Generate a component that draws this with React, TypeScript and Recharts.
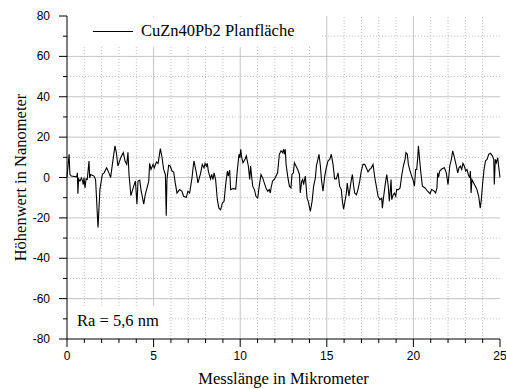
import { LineChart, Line, XAxis, YAxis, ReferenceLine, Legend } from 'recharts';

// profile: position along the line (µm) and height (nm)
const positionUm = [
  0.0, 0.12, 0.17, 0.25, 0.56, 0.6, 0.63, 0.67, 0.75, 0.83, 0.9, 0.94, 0.98, 1.04, 1.1, 1.17, 1.27, 1.31, 1.37, 1.56,
  1.65, 1.79, 1.9, 2.04, 2.14, 2.29, 2.42, 2.52, 2.62, 2.77, 2.85, 2.94, 3.1, 3.25, 3.35, 3.45, 3.52, 3.58, 3.69, 3.85,
  3.95, 4.04, 4.1, 4.2, 4.27, 4.43, 4.52, 4.72, 4.77, 4.85, 4.97, 5.04, 5.16, 5.26, 5.39, 5.49, 5.58, 5.68, 5.73, 5.77,
  5.87, 5.96, 6.06, 6.16, 6.25, 6.35, 6.5, 6.64, 6.73, 6.89, 6.98, 7.08, 7.22, 7.28, 7.33, 7.47, 7.56, 7.72, 7.81, 7.91,
  7.97, 8.05, 8.1, 8.16, 8.24, 8.29, 8.35, 8.43, 8.49, 8.58, 8.68, 8.77, 8.87, 8.97, 9.07, 9.16, 9.26, 9.31, 9.39, 9.45,
  9.6, 9.74, 9.83, 9.93, 9.99, 10.03, 10.09, 10.16, 10.28, 10.35, 10.47, 10.55, 10.6, 10.66, 10.72, 10.82, 10.91, 11.01, 11.1, 11.2,
  11.3, 11.39, 11.49, 11.59, 11.68, 11.74, 11.78, 11.87, 11.97, 12.07, 12.16, 12.26, 12.36, 12.45, 12.51, 12.55, 12.6, 12.65, 12.74, 12.84,
  12.93, 12.99, 13.07, 13.13, 13.22, 13.32, 13.42, 13.47, 13.55, 13.61, 13.66, 13.76, 13.86, 13.93, 14.05, 14.15, 14.24, 14.34, 14.4, 14.55,
  14.63, 14.69, 14.78, 14.88, 14.97, 15.07, 15.17, 15.26, 15.36, 15.45, 15.55, 15.65, 15.74, 15.84, 15.9, 15.97, 16.03, 16.13, 16.18, 16.28,
  16.36, 16.42, 16.48, 16.55, 16.61, 16.71, 16.8, 16.9, 16.99, 17.09, 17.19, 17.28, 17.38, 17.48, 17.57, 17.67, 17.77, 17.86, 17.96, 18.07,
  18.17, 18.21, 18.27, 18.36, 18.46, 18.55, 18.61, 18.67, 18.71, 18.75, 18.84, 18.9, 18.98, 19.03, 19.13, 19.23, 19.32, 19.42, 19.52, 19.57,
  19.65, 19.71, 19.81, 19.9, 20.0, 20.06, 20.13, 20.19, 20.25, 20.29, 20.35, 20.42, 20.52, 20.67, 20.82, 20.96, 21.05, 21.21, 21.28, 21.36,
  21.4, 21.45, 21.52, 21.65, 21.79, 21.9, 22.0, 22.1, 22.19, 22.27, 22.37, 22.48, 22.56, 22.63, 22.71, 22.79, 22.86, 22.94, 23.02, 23.09,
  23.17, 23.25, 23.29, 23.33, 23.38, 23.48, 23.58, 23.67, 23.77, 23.86, 23.92, 24.0, 24.08, 24.16, 24.25, 24.35, 24.44, 24.54, 24.64, 24.67,
  24.73, 24.79, 24.87, 24.92, 25.0,
];
const heightNm = [
  0.3, 11.5, 1.5, 0.7, 0.3, 2.3, -8.0, -0.7, -1.8, -0.2, -1.8, -3.5, -0.2, -5.2, -0.7, -1.0, 8.2, -0.2, 1.5, 0.7,
  -1.0, -24.7, -6.0, 1.5, 2.3, 4.8, 2.3, 0, 6.5, 15.7, 12.3, 5.7, 9.8, 12.3, 8.2, 6.5, 12.5, 1.5, -9.0, -4.3,
  -1.8, -13.2, -1.8, -1.3, -6.0, -13.2, -8.5, -1.8, 7.0, 4.0, 6.5, 4.8, 7.7, 7.0, 14.3, 9.8, 4.0, 1.5, -19.0, -1.0,
  6.0, 5.7, 3.2, 2.7, -2.7, -7.7, -6.0, -6.8, -9.3, -9.8, -6.8, -7.7, 0, 4.8, 8.2, 2.3, -2.7, 2.3, 6.5, 4.8,
  7.0, 5.7, 7.0, 3.2, 0.7, -0.7, 1.5, -1.0, 2.3, -1.0, -11.0, -15.2, -16.0, -12.7, -11.8, -3.5, 3.2, 0.7, 3.7, -6.0,
  -5.5, -5.7, 3.2, 11.5, 9.8, 14.0, 9.8, 7.3, 9.0, 10.7, 5.7, -1.0, 5.7, 0.7, -4.3, -6.0, -9.3, -10.2, -4.3, 1.5,
  -0.2, -2.7, -5.2, -6.8, -6.0, -7.7, -5.2, -1.8, -1.0, 0.7, 2.3, 11.5, 13.2, 12.3, 14.0, 11.5, 14.0, 6.5, 0.7, -4.3,
  -5.2, 1.5, 2.3, 7.3, 5.7, 4.0, 1.5, -7.7, -1.8, -1.0, -3.5, 0.7, -10.2, -11.8, -16.8, -11.8, -4.3, -0.2, 5.7, 11.5,
  5.7, -1.0, -6.8, 0.7, 4.8, 8.2, 9.0, 11.5, 6.5, -0.7, -0.7, 2.3, -4.3, -6.0, -11.8, -15.7, -12.7, -7.7, -2.7, -9.3,
  -4.3, -1.0, 1.5, -4.3, -7.7, -8.5, -6.0, -1.8, 3.2, 6.5, 6.5, 4.8, 2.8, 4.0, 4.8, 6.5, 0, -4.3, -9.3, -11.0,
  -10.2, -15.2, -10.2, -4.3, 1.5, -4.3, -11.8, -6.0, -1.0, -11.0, -8.5, -7.7, -9.3, -6.0, -6.0, -5.2, 0.7, 5.7, 9.0, 12.3,
  11.5, 6.5, 3.2, 0.7, -1.8, -4.3, 4.0, 4.0, 9.8, 15.7, 9.8, 3.2, -4.3, -5.2, -6.8, -8.0, -6.0, -6.8, -7.7, -5.2,
  2.3, 0, 3.2, 4.3, 4.8, 2.3, -3.5, 5.7, 9.0, 13.2, 9.8, 5.7, 2.3, 4.8, 5.7, 4.0, 7.0, 5.7, 3.2, 4.0,
  1.5, -0.2, 3.2, -7.7, -1.0, -2.7, -4.3, -6.0, -9.3, -15.2, -11.0, -2.7, 4.0, 8.2, 9.0, 11.5, 12.0, 11.0, 9.0, -3.5,
  9.0, 7.3, 9.8, 5.7, 0,
];

const xTicks = [0, 1, 2, 3, 4, 5, 6, 7, 8, 9, 10, 11, 12, 13, 14, 15, 16, 17, 18, 19, 20, 21, 22, 23, 24, 25];
const yTicks = [-80, -70, -60, -50, -40, -30, -20, -10, 0, 10, 20, 30, 40, 50, 60, 70, 80];
const xGridMajor = [5, 10, 15, 20];
const xGridMinor = [1, 2, 3, 4, 6, 7, 8, 9, 11, 12, 13, 14, 16, 17, 18, 19, 21, 22, 23, 24];
const yGridMajor = [-60, -40, -20, 0, 20, 40, 60];
const yGridMinor = [-70, -50, -30, -10, 10, 30, 50, 70];

const seriesName = 'CuZn40Pb2 Planfläche';
const raText = 'Ra = 5,6 nm';
const xTitle = 'Messlänge in Mikrometer';
const yTitle = 'Höhenwert in Nanometer';

const SERIF = '"Liberation Serif", "Times New Roman", serif';
const SANS = '"Liberation Sans", Arial, sans-serif';
const serifStyle = { fontFamily: SERIF, fontSize: 16.5 };

const chartData = positionUm.map((x, i) => ({ x, h: heightNm[i] }));

function XTick(props: any) {
  const { x, y, payload } = props;
  const v = payload.value;
  const major = v % 5 === 0;
  return (
    <g>
      <line x1={x} x2={x} y1={y} y2={y + (major ? 8 : 4)} stroke="#000" />
      {major && (
        <text x={x} y={y + 21} textAnchor="middle" style={{ fontFamily: SANS, fontSize: 12 }} fill="#000">{v}</text>
      )}
    </g>
  );
}

function YTick(props: any) {
  const { x, y, payload } = props;
  const v = payload.value;
  const major = v % 20 === 0;
  return (
    <g>
      <line x1={x} x2={x - (major ? 8 : 4)} y1={y} y2={y} stroke="#000" />
      {major && (
        <text x={x - 17} y={y + 4} textAnchor="end" style={{ fontFamily: SANS, fontSize: 12 }} fill="#000">{v}</text>
      )}
    </g>
  );
}

function LegendBox() {
  return (
    <svg width={252} height={30} style={{ display: 'block' }}>
      <rect x={0} y={0} width={252} height={30} fill="#fff" />
      <line x1={25} x2={65} y1={14.5} y2={14.5} stroke="#000" strokeWidth={1} />
      <text x={73} y={19} style={serifStyle} fill="#000">{seriesName}</text>
    </svg>
  );
}

export default function App() {
  return (
    <div style={{ position: 'absolute', left: 0, top: 0, width: 506, height: 389, background: '#fff' }}>
      <LineChart width={506} height={389} data={chartData} margin={{ top: 16, right: 6, left: 27, bottom: 20 }}>
        {xGridMinor.map((v) => (
          <ReferenceLine key={'xm' + v} x={v} stroke="#bdbdbd" strokeDasharray="1 2" />
        ))}
        {yGridMinor.map((v) => (
          <ReferenceLine key={'ym' + v} y={v} stroke="#bdbdbd" strokeDasharray="1 2" />
        ))}
        {xGridMajor.map((v) => (
          <ReferenceLine key={'xM' + v} x={v} stroke="#c4c4c4" />
        ))}
        {yGridMajor.map((v) => (
          <ReferenceLine key={'yM' + v} y={v} stroke="#c4c4c4" />
        ))}
        <XAxis
          dataKey="x"
          type="number"
          domain={[0, 25]}
          ticks={xTicks}
          interval={0}
          height={30}
          tickSize={0}
          tickMargin={0}
          tickLine={false}
          tick={<XTick />}
          axisLine={{ stroke: '#000' }}
          label={{ value: xTitle, position: 'bottom', offset: 3, fill: '#000', style: serifStyle }}
        />
        <YAxis
          type="number"
          domain={[-80, 80]}
          ticks={yTicks}
          interval={0}
          width={40}
          tickSize={0}
          tickMargin={0}
          tickLine={false}
          tick={<YTick />}
          axisLine={{ stroke: '#000' }}
          label={{
            value: yTitle, angle: -90, position: 'insideLeft', offset: -7, fill: '#000',
            style: { ...serifStyle, textAnchor: 'middle' },
          }}
        />
        <Legend
          layout="vertical"
          align="center"
          verticalAlign="middle"
          wrapperStyle={{ left: 68, top: 17, width: 252, height: 30 }}
          content={() => <LegendBox />}
        />
        <Line
          dataKey="h"
          name={seriesName}
          type="linear"
          stroke="#000"
          strokeWidth={1.1}
          dot={false}
          isAnimationActive={false}
        />
      </LineChart>
      <svg width={506} height={389} style={{ position: 'absolute', left: 0, top: 0, pointerEvents: 'none' }}>
        <rect x={68} y={306} width={100} height={32} fill="#fff" />
        <text x={77} y={326} style={serifStyle} fill="#000">{raText}</text>
      </svg>
    </div>
  );
}
